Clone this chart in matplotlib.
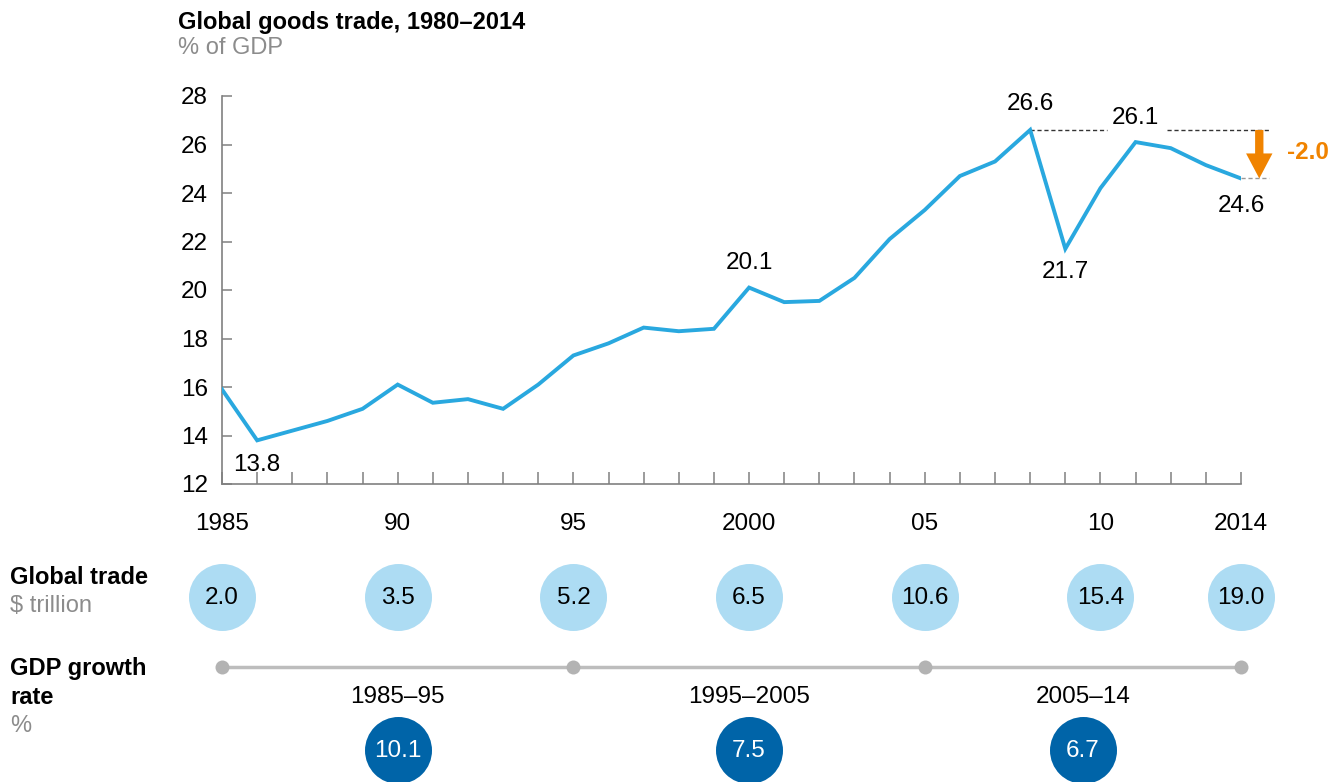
import matplotlib
matplotlib.use("Agg")
import matplotlib.pyplot as plt

plt.rcParams["font.family"] = ["Liberation Sans", "DejaVu Sans"]

years = list(range(1985, 2015))
trade_pct = [15.9, 13.8, 14.2, 14.6, 15.1, 16.1, 15.35, 15.5, 15.1, 16.1,
             17.3, 17.8, 18.45, 18.3, 18.4, 20.1, 19.5, 19.55, 20.5, 22.1,
             23.3, 24.7, 25.3, 26.6, 21.7, 24.2, 26.1, 25.85, 25.15, 24.6]

label_years = [1985, 1990, 1995, 2000, 2005, 2010, 2014]
label_text = ["1985", "90", "95", "2000", "05", "10", "2014"]

callout_years = [1986, 2000, 2008, 2011, 2009, 2014]
callout_text = ["13.8", "20.1", "26.6", "26.1", "21.7", "24.6"]
callout_offset = [-1.0, 1.0, 1.05, 1.0, -0.95, -1.15]

trade_years = [1985, 1990, 1995, 2000, 2005, 2010, 2014]
trade_trn = ["2.0", "3.5", "5.2", "6.5", "10.6", "15.4", "19.0"]

period_bounds = [1985, 1995, 2005, 2014]
period_names = ["1985–95", "1995–2005", "2005–14"]
gdp_growth = ["10.1", "7.5", "6.7"]

LINE = "#29A8DF"
LIGHT = "#ADDCF3"
DARK = "#0064A8"
ORANGE = "#F08300"
GREY_TXT = "#8C8C8C"
AXIS = "#808080"
NUM = 17.5
HEAD = 17

W, H = 1341, 782
fig = plt.figure(figsize=(W / 100, H / 100), dpi=100)

def fx(px):
    return px / W

def fy(py):
    return 1 - py / H

# main line chart
ax = fig.add_axes([fx(222), fy(484), fx(1241 - 222), (484 - 96) / H])
ax.plot(years, trade_pct, color=LINE, lw=2.8, solid_joinstyle="miter", zorder=3)
ax.set_xlim(1985, 2014)
ax.set_ylim(12, 28)
for s in ["top", "right"]:
    ax.spines[s].set_visible(False)
for s in ["left", "bottom"]:
    ax.spines[s].set_color(AXIS)
    ax.spines[s].set_linewidth(1.2)
ax.set_yticks(range(12, 29, 2))
ax.set_xticks(label_years)
ax.set_xticklabels(label_text)
ax.set_xticks(years, minor=True)
ax.tick_params(axis="x", which="both", direction="in", length=9, width=1.1,
               color=AXIS, pad=21, labelsize=NUM)
ax.tick_params(axis="y", direction="in", length=7, width=1.1, color=AXIS,
               pad=10, labelsize=NUM)
ax.patch.set_alpha(0)

for yr, txt, off in zip(callout_years, callout_text, callout_offset):
    v = trade_pct[years.index(yr)]
    ax.text(yr, v + off, txt, ha="center", va="center", fontsize=NUM)

peak = trade_pct[years.index(2008)]
last = trade_pct[-1]
ax.plot([2008, 2010.2], [peak, peak], color="#333333", lw=1, ls=(0, (3, 2)), zorder=2)
ax.plot([2011.9, 2014.8], [peak, peak], color="#333333", lw=1, ls=(0, (3, 2)), zorder=2,
        clip_on=False)
ax.plot([2014, 2014.8], [last, last], color="#999999", lw=1, ls=(0, (3, 2)), zorder=2,
        clip_on=False)
ax.annotate("", xy=(2014.52, last), xytext=(2014.52, peak),
            arrowprops=dict(width=6, headwidth=19, headlength=18, shrink=0,
                            color=ORANGE, lw=0), annotation_clip=False)
ax.text(2015.3, (peak + last) / 2 + 0.05, "%.1f" % (last - peak), color=ORANGE,
        fontsize=NUM, fontweight="bold", ha="left", va="center")

fig.text(fx(178), fy(23), "Global goods trade, 1980–2014", fontsize=HEAD,
         fontweight="bold", ha="left", va="center")
fig.text(fx(178), fy(48), "% of GDP", fontsize=HEAD, color=GREY_TXT,
         ha="left", va="center")

# bottom panel, sharing the year scale
bx = fig.add_axes([fx(222), 0, fx(1241 - 222), (H - 540) / H], sharex=ax)
bx.set_ylim(H, 540)
bx.axis("off")
bx.patch.set_alpha(0)

bx.scatter(trade_years, [597] * len(trade_years), s=(67 * 0.72) ** 2,
           color=LIGHT, lw=0, clip_on=False, zorder=2)
for yr, txt in zip(trade_years, trade_trn):
    bx.text(yr, 598, txt, ha="center", va="center", fontsize=NUM, zorder=3)

bx.plot([period_bounds[0], period_bounds[-1]], [667, 667], color="#BDBDBD", lw=2.5,
        zorder=1, clip_on=False)
bx.scatter(period_bounds, [667] * len(period_bounds), s=(14 * 0.72) ** 2,
           color="#B3B3B3", lw=0, zorder=2, clip_on=False)
mids = [(a + b) / 2 for a, b in zip(period_bounds[:-1], period_bounds[1:])]
for m, name in zip(mids, period_names):
    bx.text(m, 697, name, ha="center", va="center", fontsize=NUM)
bx.scatter(mids, [750] * len(mids), s=(67 * 0.72) ** 2, color=DARK, lw=0,
           clip_on=False, zorder=2)
for m, g in zip(mids, gdp_growth):
    bx.text(m, 751, g, ha="center", va="center", fontsize=NUM, color="white", zorder=3)

fig.text(fx(10), fy(578), "Global trade", fontsize=HEAD, fontweight="bold", va="center")
fig.text(fx(10), fy(606), "$ trillion", fontsize=HEAD, color=GREY_TXT, va="center")
fig.text(fx(10), fy(668), "GDP growth", fontsize=HEAD, fontweight="bold", va="center")
fig.text(fx(10), fy(697), "rate", fontsize=HEAD, fontweight="bold", va="center")
fig.text(fx(10), fy(726), "%", fontsize=HEAD, color=GREY_TXT, va="center")

fig.savefig("out.png", dpi=100)
